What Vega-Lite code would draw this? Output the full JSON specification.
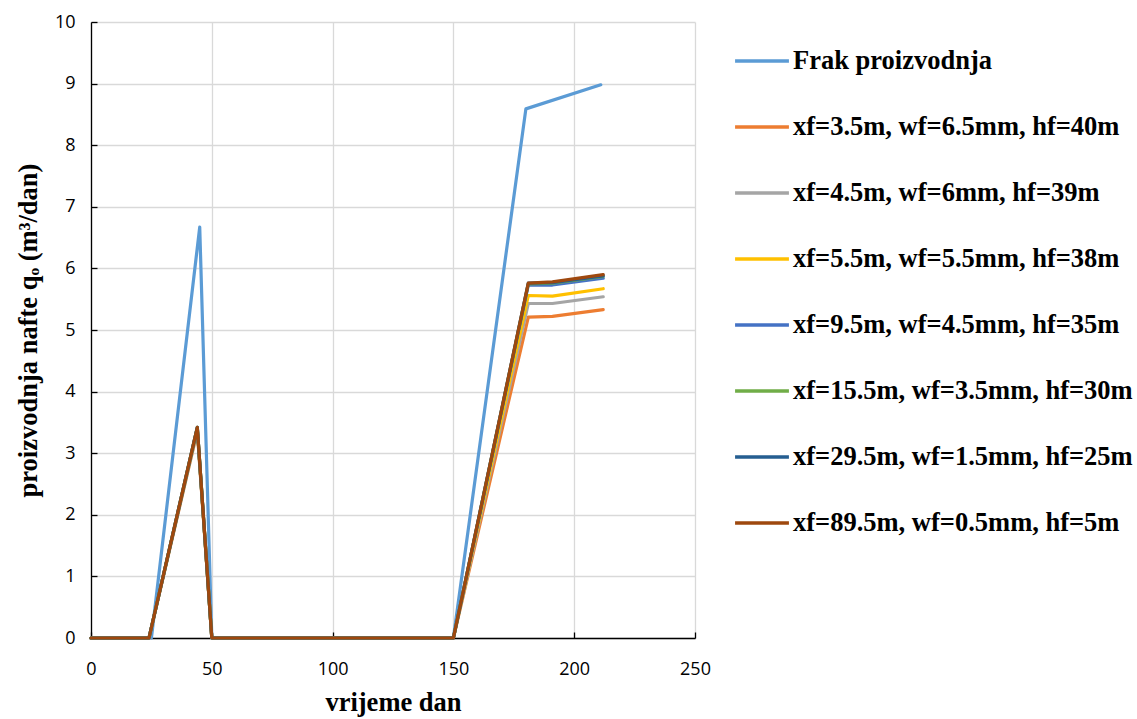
{
  "$schema": "https://vega.github.io/schema/vega-lite/v6.json",
  "autosize": {"type": "none"},
  "padding": {"left": 91, "top": 22, "right": 442, "bottom": 81},
  "width": 604,
  "height": 616,
  "background": "white",
  "config": {
    "view": {"stroke": null},
    "axis": {
      "labelFont": "Open Sans",
      "labelFontSize": 18,
      "labelColor": "#000000",
      "labelFlush": false,
      "titleFont": "Liberation Serif",
      "titleFontWeight": "bold",
      "titleColor": "#000000",
      "gridColor": "#d9d9d9",
      "gridWidth": 1.3,
      "domainColor": "#000000",
      "domainWidth": 1.3,
      "tickColor": "#000000",
      "tickSize": -6,
      "tickWidth": 1.3
    }
  },
  "data": {
    "values": [
      {"s": "Frak proizvodnja", "x": 0, "y": 0},
      {"s": "Frak proizvodnja", "x": 25, "y": 0},
      {"s": "Frak proizvodnja", "x": 45, "y": 6.67},
      {"s": "Frak proizvodnja", "x": 50, "y": 0},
      {"s": "Frak proizvodnja", "x": 150, "y": 0},
      {"s": "Frak proizvodnja", "x": 180, "y": 8.59},
      {"s": "Frak proizvodnja", "x": 211, "y": 8.98},

      {"s": "xf=3.5m, wf=6.5mm, hf=40m", "x": 0, "y": 0},
      {"s": "xf=3.5m, wf=6.5mm, hf=40m", "x": 24, "y": 0},
      {"s": "xf=3.5m, wf=6.5mm, hf=40m", "x": 44, "y": 3.36},
      {"s": "xf=3.5m, wf=6.5mm, hf=40m", "x": 50, "y": 0},
      {"s": "xf=3.5m, wf=6.5mm, hf=40m", "x": 150, "y": 0},
      {"s": "xf=3.5m, wf=6.5mm, hf=40m", "x": 181, "y": 5.21},
      {"s": "xf=3.5m, wf=6.5mm, hf=40m", "x": 191, "y": 5.22},
      {"s": "xf=3.5m, wf=6.5mm, hf=40m", "x": 212, "y": 5.33},

      {"s": "xf=4.5m, wf=6mm, hf=39m", "x": 0, "y": 0},
      {"s": "xf=4.5m, wf=6mm, hf=39m", "x": 24, "y": 0},
      {"s": "xf=4.5m, wf=6mm, hf=39m", "x": 44, "y": 3.38},
      {"s": "xf=4.5m, wf=6mm, hf=39m", "x": 50, "y": 0},
      {"s": "xf=4.5m, wf=6mm, hf=39m", "x": 150, "y": 0},
      {"s": "xf=4.5m, wf=6mm, hf=39m", "x": 181, "y": 5.43},
      {"s": "xf=4.5m, wf=6mm, hf=39m", "x": 191, "y": 5.43},
      {"s": "xf=4.5m, wf=6mm, hf=39m", "x": 212, "y": 5.54},

      {"s": "xf=5.5m, wf=5.5mm, hf=38m", "x": 0, "y": 0},
      {"s": "xf=5.5m, wf=5.5mm, hf=38m", "x": 24, "y": 0},
      {"s": "xf=5.5m, wf=5.5mm, hf=38m", "x": 44, "y": 3.4},
      {"s": "xf=5.5m, wf=5.5mm, hf=38m", "x": 50, "y": 0},
      {"s": "xf=5.5m, wf=5.5mm, hf=38m", "x": 150, "y": 0},
      {"s": "xf=5.5m, wf=5.5mm, hf=38m", "x": 181, "y": 5.56},
      {"s": "xf=5.5m, wf=5.5mm, hf=38m", "x": 191, "y": 5.55},
      {"s": "xf=5.5m, wf=5.5mm, hf=38m", "x": 212, "y": 5.67},

      {"s": "xf=9.5m, wf=4.5mm, hf=35m", "x": 0, "y": 0},
      {"s": "xf=9.5m, wf=4.5mm, hf=35m", "x": 24, "y": 0},
      {"s": "xf=9.5m, wf=4.5mm, hf=35m", "x": 44, "y": 3.41},
      {"s": "xf=9.5m, wf=4.5mm, hf=35m", "x": 50, "y": 0},
      {"s": "xf=9.5m, wf=4.5mm, hf=35m", "x": 150, "y": 0},
      {"s": "xf=9.5m, wf=4.5mm, hf=35m", "x": 181, "y": 5.73},
      {"s": "xf=9.5m, wf=4.5mm, hf=35m", "x": 191, "y": 5.73},
      {"s": "xf=9.5m, wf=4.5mm, hf=35m", "x": 212, "y": 5.84},

      {"s": "xf=15.5m, wf=3.5mm, hf=30m", "x": 0, "y": 0},
      {"s": "xf=15.5m, wf=3.5mm, hf=30m", "x": 24, "y": 0},
      {"s": "xf=15.5m, wf=3.5mm, hf=30m", "x": 44, "y": 3.42},
      {"s": "xf=15.5m, wf=3.5mm, hf=30m", "x": 50, "y": 0},
      {"s": "xf=15.5m, wf=3.5mm, hf=30m", "x": 150, "y": 0},
      {"s": "xf=15.5m, wf=3.5mm, hf=30m", "x": 181, "y": 5.75},
      {"s": "xf=15.5m, wf=3.5mm, hf=30m", "x": 191, "y": 5.76},
      {"s": "xf=15.5m, wf=3.5mm, hf=30m", "x": 212, "y": 5.87},

      {"s": "xf=29.5m, wf=1.5mm, hf=25m", "x": 0, "y": 0},
      {"s": "xf=29.5m, wf=1.5mm, hf=25m", "x": 24, "y": 0},
      {"s": "xf=29.5m, wf=1.5mm, hf=25m", "x": 44, "y": 3.42},
      {"s": "xf=29.5m, wf=1.5mm, hf=25m", "x": 50, "y": 0},
      {"s": "xf=29.5m, wf=1.5mm, hf=25m", "x": 150, "y": 0},
      {"s": "xf=29.5m, wf=1.5mm, hf=25m", "x": 181, "y": 5.76},
      {"s": "xf=29.5m, wf=1.5mm, hf=25m", "x": 191, "y": 5.77},
      {"s": "xf=29.5m, wf=1.5mm, hf=25m", "x": 212, "y": 5.88},

      {"s": "xf=89.5m, wf=0.5mm, hf=5m", "x": 0, "y": 0},
      {"s": "xf=89.5m, wf=0.5mm, hf=5m", "x": 24, "y": 0},
      {"s": "xf=89.5m, wf=0.5mm, hf=5m", "x": 44, "y": 3.42},
      {"s": "xf=89.5m, wf=0.5mm, hf=5m", "x": 50, "y": 0},
      {"s": "xf=89.5m, wf=0.5mm, hf=5m", "x": 150, "y": 0},
      {"s": "xf=89.5m, wf=0.5mm, hf=5m", "x": 181, "y": 5.76},
      {"s": "xf=89.5m, wf=0.5mm, hf=5m", "x": 191, "y": 5.78},
      {"s": "xf=89.5m, wf=0.5mm, hf=5m", "x": 212, "y": 5.9}
    ]
  },
  "mark": {"type": "line", "strokeWidth": 3.2, "strokeCap": "round", "strokeJoin": "round"},
  "encoding": {
    "x": {
      "field": "x", "type": "quantitative",
      "scale": {"domain": [0, 250], "nice": false},
      "axis": {"title": "vrijeme dan", "titleFontSize": 26.5, "values": [0, 50, 100, 150, 200, 250], "labelPadding": 28, "titlePadding": 11}
    },
    "y": {
      "field": "y", "type": "quantitative",
      "scale": {"domain": [0, 10], "nice": false},
      "axis": {"title": "proizvodnja nafte qₒ (m³/dan)", "titleFontSize": 26.5, "values": [0,1,2,3,4,5,6,7,8,9,10], "labelPadding": 22, "titlePadding": 12}
    },
    "color": {
      "field": "s", "type": "nominal",
      "scale": {
        "domain": ["Frak proizvodnja", "xf=3.5m, wf=6.5mm, hf=40m", "xf=4.5m, wf=6mm, hf=39m", "xf=5.5m, wf=5.5mm, hf=38m", "xf=9.5m, wf=4.5mm, hf=35m", "xf=15.5m, wf=3.5mm, hf=30m", "xf=29.5m, wf=1.5mm, hf=25m", "xf=89.5m, wf=0.5mm, hf=5m"],
        "range": ["#5b9bd5", "#ed7d31", "#a5a5a5", "#ffc000", "#4472c4", "#70ad47", "#255e91", "#9e480e"]
      },
      "legend": {
        "title": null,
        "orient": "none",
        "legendX": 642,
        "legendY": 10,
        "symbolType": "stroke",
        "symbolSize": 2900,
        "symbolStrokeWidth": 3.5,
        "labelFont": "Liberation Serif",
        "labelFontSize": 26.5,
        "labelFontWeight": "bold",
        "labelColor": "#000000",
        "labelOffset": 2,
        "labelLimit": 420,
        "rowPadding": 23
      }
    }
  }
}
